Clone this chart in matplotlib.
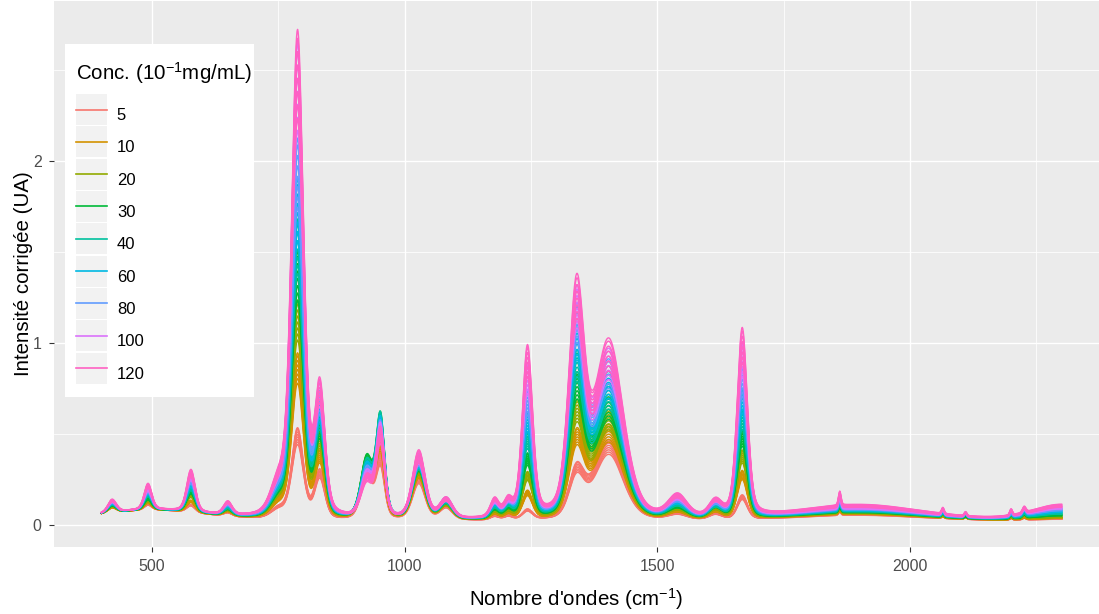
#! /usr/bin/env python
#
#  Raman spectra (corrected intensity) for a concentration series,
#  drawn in the ggplot2 look: grey panel, white grid, hue palette.

import numpy as np
import matplotlib
matplotlib.use("Agg")
import matplotlib.pyplot as plt
from matplotlib.lines import Line2D
from matplotlib.legend_handler import HandlerLine2D
from matplotlib.patches import Rectangle

plt.rcParams['font.family'] = ['Liberation Sans', 'DejaVu Sans']
plt.rcParams['mathtext.fontset'] = 'custom'
plt.rcParams['mathtext.rm'] = 'Liberation Sans'
plt.rcParams['mathtext.default'] = 'regular'

#  concentrations (10^-1 mg/mL) and their ggplot hue colours
conc   = [5, 10, 20, 30, 40, 60, 80, 100, 120]
colors = ["#F8766D", "#D39200", "#93AA00", "#00BA38", "#00C19F",
          "#00B9E3", "#619CFF", "#DB72FB", "#FF61C3"]

#  spectral range (cm-1)
wn_min, wn_max = 400, 2300

#  bands: centre (cm-1), half width (cm-1),
#  and height for each concentration 5 ... 120
band_pos = [421, 492, 577, 650, 750, 788, 832, 925, 952, 1028, 1082,
            1178, 1205, 1243, 1340, 1404, 1540, 1615, 1668,
            1861, 1900, 2065, 2110, 2200, 2226, 2300]
band_hw  = [10, 9, 10, 10, 18, 14, 12, 14, 10, 15, 15,
            10, 10, 12, 18, 34, 22, 15, 12,
            3, 150, 3, 3, 3, 4, 70]
band_h = [
    [0.03, 0.03, 0.035, 0.04, 0.045, 0.05, 0.055, 0.06, 0.065],   # 421
    [0.03, 0.04, 0.05, 0.06, 0.08, 0.09, 0.10, 0.11, 0.13],       # 492
    [0.04, 0.06, 0.09, 0.11, 0.13, 0.15, 0.17, 0.19, 0.21],       # 577
    [0.02, 0.025, 0.03, 0.035, 0.04, 0.05, 0.055, 0.06, 0.065],   # 650
    [0.05, 0.07, 0.09, 0.10, 0.11, 0.12, 0.13, 0.14, 0.15],       # 750
    [0.45, 0.82, 1.08, 1.32, 1.48, 1.68, 1.88, 2.35, 2.42],       # 788
    [0.24, 0.32, 0.40, 0.45, 0.50, 0.54, 0.58, 0.61, 0.63],       # 832
    [0.25, 0.30, 0.30, 0.30, 0.28, 0.26, 0.24, 0.22, 0.20],       # 925
    [0.30, 0.38, 0.46, 0.50, 0.50, 0.48, 0.46, 0.45, 0.43],       # 952
    [0.22, 0.25, 0.27, 0.29, 0.30, 0.31, 0.32, 0.33, 0.34],       # 1028
    [0.07, 0.08, 0.08, 0.09, 0.09, 0.10, 0.10, 0.10, 0.10],       # 1082
    [0.02, 0.03, 0.04, 0.05, 0.06, 0.07, 0.08, 0.08, 0.09],       # 1178
    [0.02, 0.03, 0.04, 0.05, 0.06, 0.07, 0.07, 0.07, 0.08],       # 1205
    [0.05, 0.14, 0.23, 0.32, 0.42, 0.52, 0.62, 0.75, 0.85],       # 1243
    [0.24, 0.40, 0.53, 0.66, 0.76, 0.88, 0.98, 1.06, 1.11],       # 1340
    [0.40, 0.47, 0.54, 0.60, 0.66, 0.72, 0.78, 0.83, 0.88],       # 1404
    [0.03, 0.04, 0.05, 0.06, 0.07, 0.08, 0.09, 0.10, 0.11],       # 1540
    [0.03, 0.04, 0.05, 0.06, 0.06, 0.07, 0.07, 0.08, 0.08],       # 1615
    [0.12, 0.24, 0.34, 0.44, 0.54, 0.64, 0.74, 0.86, 0.94],       # 1668
    [0.02, 0.02, 0.03, 0.03, 0.04, 0.04, 0.05, 0.06, 0.07],       # 1861
    [0.035, 0.04, 0.045, 0.05, 0.055, 0.06, 0.065, 0.07, 0.08],   # 1900
    [0.01, 0.01, 0.01, 0.02, 0.02, 0.02, 0.03, 0.03, 0.03],       # 2065
    [0.01, 0.01, 0.01, 0.01, 0.02, 0.02, 0.02, 0.02, 0.02],       # 2110
    [0.01, 0.01, 0.01, 0.02, 0.02, 0.02, 0.02, 0.03, 0.03],       # 2200
    [0.01, 0.01, 0.02, 0.02, 0.02, 0.03, 0.03, 0.03, 0.03],       # 2226
    [0.01, 0.015, 0.02, 0.03, 0.04, 0.05, 0.06, 0.07, 0.08],      # 2300
]
#  broad background under the low-wavenumber part and a small offset
bg_pos, bg_hw, bg_h = 500, 130, 0.06
offset = 0.02

#  replicate spectra per concentration (relative scale of each one)
rep_scale = [0.90, 0.93, 0.96, 0.99, 1.02, 1.05, 1.08, 1.10]

lorentz_frac = 0.35     # pseudo-Voigt mixing of each band


def band(x, x0, hw):
    g = np.exp(-np.log(2) * ((x - x0) / hw) ** 2)
    l = 1.0 / (1.0 + ((x - x0) / hw) ** 2)
    return (1 - lorentz_frac) * g + lorentz_frac * l


wn = np.arange(wn_min, wn_max + 1, 1.0)

key_h = 31.0    # legend key box height in pixels


class KeyHandler(HandlerLine2D):
    """legend key with the grey ggplot key background behind the line"""
    def create_artists(self, legend, orig_handle, xdescent, ydescent,
                       width, height, fontsize, trans):
        arts = super().create_artists(legend, orig_handle, xdescent, ydescent,
                                      width, height, fontsize, trans)
        yc = arts[0].get_ydata()[0]
        kh = key_h * 72 / 100
        bg = Rectangle((-xdescent, yc - kh / 2), width, kh,
                       facecolor='#F2F2F2', edgecolor='none',
                       transform=trans, zorder=0)
        return [bg] + arts


fig = plt.figure(figsize=(10.99, 6.14), dpi=100)
ax = fig.add_axes([54 / 1099, 67.5 / 614, 1045 / 1099, 545.5 / 614])
ax.set_facecolor('#EBEBEB')

for i, c in enumerate(conc):
    for s in rep_scale:
        y = offset + bg_h * band(wn, bg_pos, bg_hw)
        for p, hw, h in zip(band_pos, band_hw, band_h):
            y = y + s * h[i] * band(wn, p, hw)
        ax.plot(wn, y, color=colors[i], lw=1.0, zorder=3)

ax.set_xlim(306, 2374)
ax.set_ylim(-0.119, 2.880)
ax.set_xticks([500, 1000, 1500, 2000])
ax.set_xticks([750, 1250, 1750, 2250], minor=True)
ax.set_yticks([0, 1, 2])
ax.set_yticks([0.5, 1.5, 2.5], minor=True)
ax.grid(which='major', color='white', lw=1.0)
ax.grid(which='minor', color='white', lw=0.55)
ax.set_axisbelow(True)
for sp in ax.spines.values():
    sp.set_visible(False)
ax.tick_params(which='major', length=3.5, width=0.8, color='#333333',
               labelcolor='#4D4D4D', labelsize=11.5, pad=5.5)
ax.tick_params(which='minor', length=0)

ax.set_xlabel("Nombre d'ondes (cm$^{-1}$)", fontsize=14.8, labelpad=8.5)
ax.set_ylabel("Intensité corrigée (UA)", fontsize=14.8, labelpad=0)

#  white legend background box (ggplot legend.background)
ax.add_patch(Rectangle((65 / 1099, 1 - 397 / 614), 189 / 1099, 353 / 614,
                       transform=fig.transFigure, facecolor='white',
                       edgecolor='none', clip_on=False, zorder=4))

#  legend: proxy lines, one per concentration
handles = [Line2D([], [], color=col, lw=1.2) for col in colors]
leg = ax.legend(handles, [str(c) for c in conc],
                title="Conc. (10$^{-1}$mg/mL)", title_fontsize=14.8,
                fontsize=12, loc='upper left',
                bbox_to_anchor=(76 / 1099, 1 - 60 / 614),
                bbox_transform=fig.transFigure, borderaxespad=0,
                handler_map={Line2D: KeyHandler(marker_pad=0.1)},
                handlelength=1.85, handleheight=2.53, labelspacing=0.05,
                handletextpad=0.6, borderpad=0, frameon=False)
leg._legend_box.align = 'left'
leg._legend_box.sep = 9.5
leg.set_zorder(5)

fig.savefig('out.png', dpi=100)
